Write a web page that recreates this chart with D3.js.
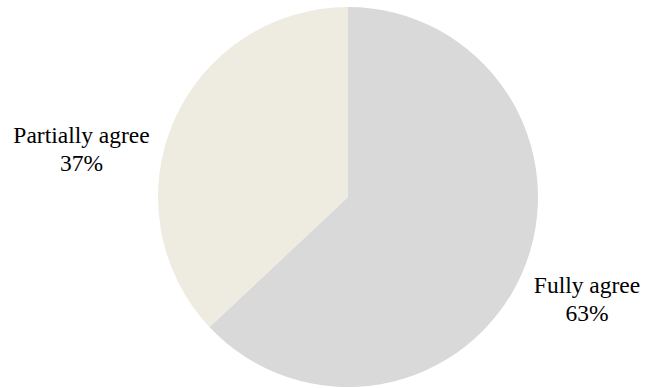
<!DOCTYPE html>
<html>
<head>
<meta charset="utf-8">
<script src="https://cdn.jsdelivr.net/npm/d3@7"></script>
<style>
  html, body { margin: 0; padding: 0; background: #fff; }
  svg { display: block; }
</style>
</head>
<body>
<svg id="chart" width="645" height="388"></svg>
<script>
const categories = ["Fully agree", "Partially agree"];
const values = [63, 37];
const colors = ["#d9d9d9", "#eeebe1"];

const width = 645, height = 388;
const cx = 348, cy = 197, radius = 190;

const svg = d3.select("#chart");
const g = svg.append("g").attr("transform", `translate(${cx},${cy})`);

const data = categories.map((c, i) => ({ name: c, value: values[i], color: colors[i] }));

const pie = d3.pie().value(d => d.value).sort(null);
const arc = d3.arc().innerRadius(0).outerRadius(radius);

g.selectAll("path")
  .data(pie(data))
  .join("path")
  .attr("d", arc)
  .attr("fill", d => d.data.color);

// Label anchors, placed outside each slice
const labelPos = [
  { x: 587 - cx, y: 293 - cy },
  { x: 81.5 - cx, y: 143 - cy }
];

const labels = g.selectAll("text.lbl")
  .data(pie(data))
  .join("text")
  .attr("class", "lbl")
  .attr("font-family", "'Liberation Serif', 'Times New Roman', Times, serif")
  .attr("font-size", "23.5px")
  .attr("fill", "#000")
  .attr("text-anchor", "middle")
  .attr("x", (d, i) => labelPos[i].x)
  .attr("y", (d, i) => labelPos[i].y);

labels.append("tspan")
  .attr("x", (d, i) => labelPos[i].x)
  .text(d => d.data.name);
labels.append("tspan")
  .attr("x", (d, i) => labelPos[i].x)
  .attr("dy", 27.5)
  .text(d => d.data.value + "%");
</script>
</body>
</html>
